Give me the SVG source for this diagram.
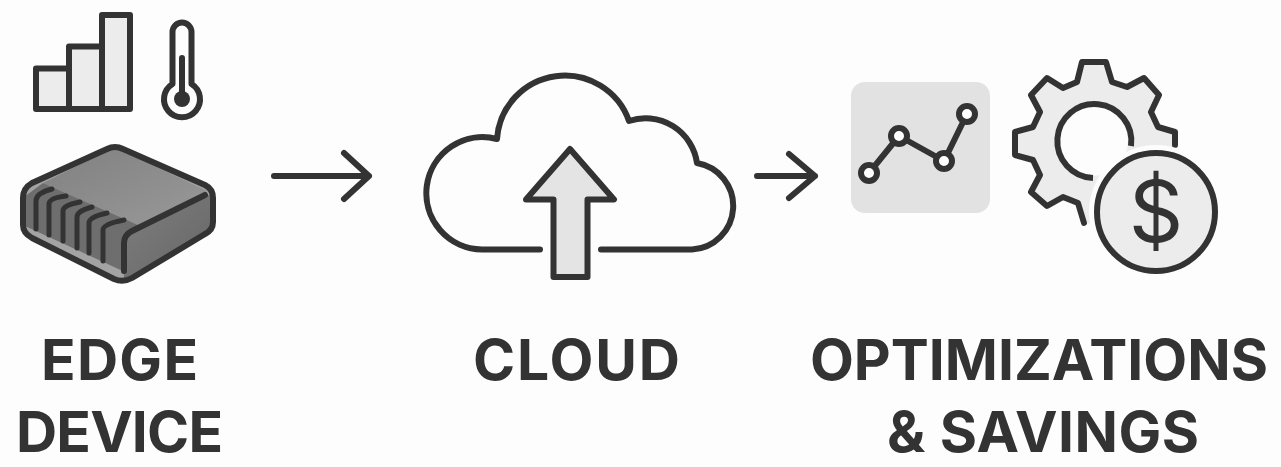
<svg xmlns="http://www.w3.org/2000/svg" width="1281" height="467" viewBox="0 0 1281 467">
<defs>
<linearGradient id="rf" x1="0" y1="0" x2="1" y2="1"><stop offset="0" stop-color="#7e7e7e"/><stop offset="1" stop-color="#666"/></linearGradient>
<linearGradient id="tf" x1="0" y1="0" x2="1" y2="1"><stop offset="0" stop-color="#808080"/><stop offset="1" stop-color="#999"/></linearGradient>
</defs>
<style>
.s{fill:none;stroke:#333;stroke-width:6;stroke-linecap:round;stroke-linejoin:round}
.l{fill:#ececec;stroke:#333;stroke-width:6;stroke-linejoin:round}
.t{font-family:Inter,"Liberation Sans",sans-serif;font-weight:700;font-size:57px;fill:#333;text-anchor:middle}
.v{fill:none;stroke:#333;stroke-width:5;stroke-linecap:round}
</style>
<rect width="1281" height="467" fill="#fdfdfd"/>
<g id="signal-icon">
<rect class="l" x="36" y="68.500" width="33" height="40.500"/>
<rect class="l" x="69" y="46.500" width="33" height="62.500"/>
<rect class="l" x="102" y="15" width="28" height="94"/>
</g>
<g id="thermometer-icon">
<path class="s" d="M172.500 84V32a9.500 9.500 0 0 1 19 0V84a18 18 0 1 1-19 0Z"/>
<path class="s" d="M182 58V95"/>
<circle cx="182" cy="99" r="8" fill="#333"/>
</g>
<g id="edge-device">
<path d="M107 149Q115 145 123 149L205 185Q213 189 213 198V222Q213 230 205 234L132 278Q123 283 114 279L32 238Q23 233 23 225V198Q23 188 32 183Z" fill="#a3a3a3"/>
<path d="M43 183L115 147L207 191L138 225Z" fill="url(#tf)"/>
<path d="M24 197L43 183L138 225L125 237V272L25 226Z" fill="#6e6e6e"/>
<path d="M124 236L213 193V228L124 282Z" fill="url(#rf)"/>
<path class="s" d="M107 149Q115 145 123 149L205 185Q213 189 213 198V222Q213 230 205 234L132 278Q123 283 114 279L32 238Q23 233 23 225V198Q23 188 32 183Z"/>
<path class="s" d="M205 195L132 231Q124 235 124 243V271"/>
<g>
<path class="v" d="M36 229V201Q36 193 52 189"/>
<path class="v" d="M49 235V204Q49 198 66 196"/>
<path class="v" d="M63 241V211Q63 205 80 202"/>
<path class="v" d="M77 248V217Q77 211 92 207"/>
<path class="v" d="M89 253V223Q89 217 107 213"/>
<path class="v" d="M103 261V230Q103 224 124 220"/>
</g>
</g>
<g id="connectors">
<path class="s" d="M274 176H369M344 153L369 176L344 199"/>
<path class="s" d="M757 176H815M789 154L815 176L789 198"/>
</g>
<g id="cloud">
<path class="s" d="M540 249.500H482A56.200 56.200 0 1 1 497 139A68 68 0 0 1 629 121A52 52 0 0 1 697 163A43.600 43.600 0 0 1 692 249.500H601"/>
<path class="l" style="fill:#e4e4e4" d="M570 149L614 199.500H587.500V277H553.500V199.500H526Z"/>
</g>
<g id="chart-panel">
<rect x="851" y="82" width="139" height="131" rx="14" fill="#e2e2e2"/>
<path class="s" d="M869 173L899 136L944 161L967 114"/>
<g fill="#fff" stroke="#333" stroke-width="6">
<circle cx="869" cy="173" r="8"/>
<circle cx="899" cy="136" r="8"/>
<circle cx="944" cy="161" r="8"/>
<circle cx="967" cy="114" r="8"/>
</g>
</g>
<g id="gear-dollar">
<path fill="#ececec" d="M1175 145V132L1158 127L1151 112L1159 95L1144 78L1127 87L1112 82L1106 62H1082L1077 82L1063 88L1047 78L1031 95L1040 112L1033 127L1015 132V155L1033 160L1040 175L1031 192L1047 206L1063 197L1078 203L1084 223L1110 225L1175 160Z"/>
<path class="s" d="M1175 145V132L1158 127L1151 112L1159 95L1144 78L1127 87L1112 82L1106 62H1082L1077 82L1063 88L1047 78L1031 95L1040 112L1033 127L1015 132V155L1033 160L1040 175L1031 192L1047 206L1063 197L1078 203L1084 223"/>
<circle cx="1093" cy="141" r="35" fill="#fdfdfd"/>
<circle cx="1156" cy="212" r="67" fill="#fdfdfd"/>
<path d="M1131 146A37 37 0 1 0 1093 178" fill="none" stroke="#333" stroke-width="6"/>
<circle cx="1156" cy="212" r="59" fill="#ececec" stroke="#333" stroke-width="6"/>
<text x="1156" y="242" style="font-family:Inter,'Liberation Sans',sans-serif;font-size:85px;font-weight:400;fill:#333;text-anchor:middle">$</text>
</g>
<g id="labels">
<text class="t" x="119.500" y="380" textLength="157" lengthAdjust="spacing">EDGE</text>
<text class="t" x="119.500" y="452" textLength="207" lengthAdjust="spacing">DEVICE</text>
<text class="t" x="576.500" y="380" textLength="207" lengthAdjust="spacing">CLOUD</text>
<text class="t" x="1039" y="380">OPTIMIZATIONS</text>
<text class="t" x="1043" y="452" textLength="312" lengthAdjust="spacing">&amp; SAVINGS</text>
</g>
</svg>
